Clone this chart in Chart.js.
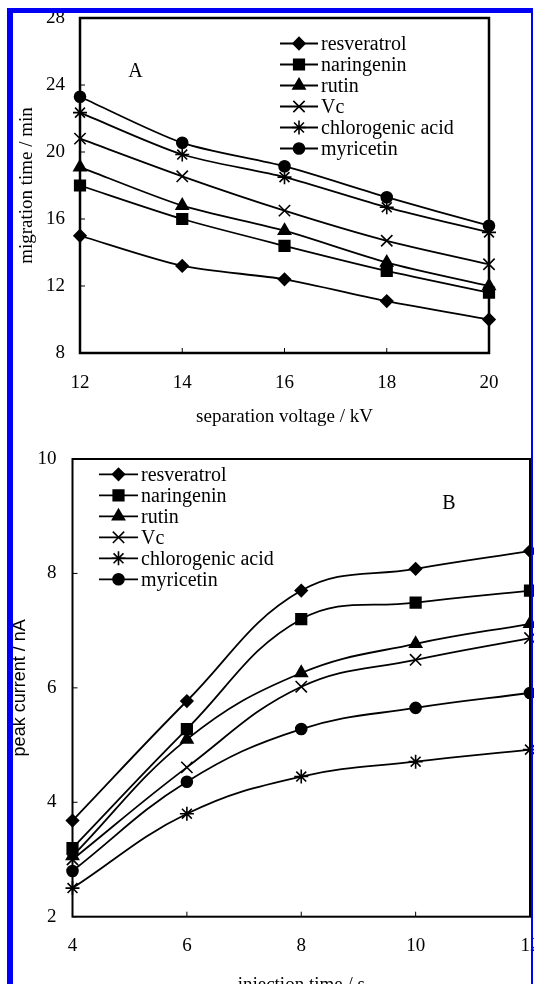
<!DOCTYPE html>
<html>
<head>
<meta charset="utf-8">
<script src="https://cdn.jsdelivr.net/npm/chart.js@4.4.1/dist/chart.umd.min.js"></script>
<style>
  html, body { margin: 0; padding: 0; background: #fff; overflow: hidden; }
  body { width: 534px; height: 984px; position: relative; }
  .frame {
    position: absolute; left: 7px; top: 8px; width: 518px; height: 1000px;
    border-left: 6px solid #0000f4; border-top: 5px solid #0000f4; border-right: 2px solid #0000f4;
    z-index: 2; pointer-events: none;
  }
  #wrapA { position: absolute; left: 0; top: 0; }
  #wrapB { position: absolute; left: 0; top: 440px; }
</style>
</head>
<body>
<div class="frame"></div>
<div id="wrapA"><canvas id="chartA" width="534" height="440"></canvas></div>
<div id="wrapB"><canvas id="chartB" width="534" height="570"></canvas></div>
<script>
const compounds = ['resveratrol', 'naringenin', 'rutin', 'Vc', 'chlorogenic acid', 'myricetin'];

// panel A: migration time (min) against separation voltage (kV)
const voltage = [12, 14, 16, 18, 20];
const voltageTicks = [12, 14, 16, 18, 20];
const migrationTicks = [8, 12, 16, 20, 24, 28];
const resveratrolA = [15.0, 13.2, 12.4, 11.1, 10.0];
const naringeninA = [18.0, 16.0, 14.4, 12.9, 11.6];
const rutinA = [19.1, 16.8, 15.3, 13.4, 12.0];
const vcA = [20.8, 18.55, 16.5, 14.7, 13.3];
const chlorogenicA = [22.35, 19.85, 18.5, 16.7, 15.2];
const myricetinA = [23.3, 20.55, 19.15, 17.3, 15.6];

// panel B: peak current (nA) against injection time (s)
const injection = [4, 6, 8, 10, 12];
const injectionTicks = [4, 6, 8, 10, 12];
const currentTicks = [2, 4, 6, 8, 10];
const resveratrolB = [3.68, 5.77, 7.7, 8.08, 8.39];
const naringeninB = [3.2, 5.28, 7.2, 7.49, 7.7];
const rutinB = [3.06, 5.1, 6.26, 6.77, 7.12];
const vcB = [3.0, 4.61, 6.02, 6.49, 6.87];
const chlorogenicB = [2.5, 3.8, 4.45, 4.71, 4.92];
const myricetinB = [2.8, 4.36, 5.28, 5.65, 5.91];

const pointStyles = ['rectRot', 'rect', 'triangle', 'crossRot', 'star', 'circle'];
const pointSizes = [6, 7.5, 7, 8, 7, 5.5];
const serif = '"Liberation Serif", "Times New Roman", serif';

function makeDatasets(xs, series, tension) {
    return series.map((ys, i) => ({
        label: compounds[i],
        data: xs.map((x, j) => ({ x: x, y: ys[j] })),
        borderColor: '#000',
        backgroundColor: '#000',
        borderWidth: 1.8,
        pointStyle: pointStyles[i],
        pointRadius: pointSizes[i],
        pointBorderWidth: 1.6,
        tension: tension,
        clip: false,
    }));
}

// box, inward ticks, panel letter and legend
const panelPlugin = {
    id: 'panel',
    afterDatasetsDraw(chart, args, opts) {
        const { ctx, chartArea: a, scales: { x, y } } = chart;
        ctx.save();
        ctx.strokeStyle = '#000';
        ctx.fillStyle = '#000';
        ctx.lineWidth = opts.boxWidth;
        ctx.strokeRect(a.left, a.top, a.right - a.left, a.bottom - a.top);

        ctx.lineWidth = 1;
        x.ticks.forEach(t => {
            const px = x.getPixelForValue(t.value);
            ctx.beginPath();
            ctx.moveTo(px, a.bottom);
            ctx.lineTo(px, a.bottom - 5);
            ctx.stroke();
        });
        y.ticks.forEach(t => {
            const py = y.getPixelForValue(t.value);
            ctx.beginPath();
            ctx.moveTo(a.left, py);
            ctx.lineTo(a.left + 5, py);
            ctx.stroke();
        });

        ctx.font = '20px ' + serif;
        ctx.textAlign = 'center';
        ctx.textBaseline = 'middle';
        ctx.fillText(opts.letter, opts.letterX, opts.letterY);

        ctx.textAlign = 'left';
        ctx.font = opts.legendFont;
        chart.data.datasets.forEach((ds, i) => {
            const ly = opts.legendTop + i * opts.legendStep;
            ctx.lineWidth = 1.8;
            ctx.beginPath();
            ctx.moveTo(opts.legendX0, ly);
            ctx.lineTo(opts.legendX1, ly);
            ctx.stroke();
            ctx.lineWidth = 1.6;
            Chart.helpers.drawPoint(ctx, {
                pointStyle: ds.pointStyle,
                radius: ds.pointRadius,
                borderWidth: 1.6,
                rotation: 0,
            }, (opts.legendX0 + opts.legendX1) / 2, ly);
            ctx.fillText(ds.label, opts.legendX1 + 3, ly + 1);
        });
        ctx.restore();
    }
};

function axis(min, max, tickValues, fitSize, horizontal, title, titleFont, titlePadding, tickPadding) {
    return {
        type: 'linear',
        min: min,
        max: max,
        afterBuildTicks: scale => { scale.ticks = tickValues.map(v => ({ value: v })); },
        afterFit: scale => {
            if (horizontal) scale.height = fitSize; else scale.width = fitSize;
            scale.paddingLeft = 0; scale.paddingRight = 0;
            scale.paddingTop = 0; scale.paddingBottom = 0;
        },
        grid: { display: false, drawTicks: false },
        border: { display: false },
        ticks: {
            color: '#000',
            padding: tickPadding,
            font: { family: serif, size: 19 },
            maxRotation: 0,
            autoSkip: false,
        },
        title: {
            display: true,
            text: title,
            color: '#000',
            font: titleFont,
            padding: titlePadding,
        },
    };
}

new Chart(document.getElementById('chartA'), {
    type: 'line',
    data: {
        datasets: makeDatasets(voltage, [resveratrolA, naringeninA, rutinA, vcA, chlorogenicA, myricetinA], 0.25),
    },
    options: {
        responsive: false,
        animation: false,
        layout: { autoPadding: false, padding: { left: 0, top: 18, right: 45, bottom: 0 } },
        scales: {
            x: axis(12, 20, voltageTicks, 87, true, 'separation voltage / kV',
                { family: serif, size: 19 }, { top: 0, bottom: 11.6 }, 18.6),
            y: axis(8, 28, migrationTicks, 80, false, 'migration time / min',
                { family: serif, size: 19 }, { top: 15.6, bottom: 0 }, 15),
        },
        plugins: {
            legend: { display: false },
            tooltip: { enabled: false },
            panel: {
                boxWidth: 2.5,
                letter: 'A', letterX: 135.5, letterY: 72,
                legendFont: '20px ' + serif,
                legendTop: 43.5, legendStep: 21, legendX0: 280, legendX1: 318,
            },
        },
    },
    plugins: [panelPlugin],
});

new Chart(document.getElementById('chartB'), {
    type: 'line',
    data: {
        datasets: makeDatasets(injection, [resveratrolB, naringeninB, rutinB, vcB, chlorogenicB, myricetinB], 0.4),
    },
    options: {
        responsive: false,
        animation: false,
        layout: { autoPadding: false, padding: { left: 0, top: 19, right: 4, bottom: 0 } },
        scales: {
            x: axis(4, 12, injectionTicks, 93.3, true, 'injection time / s',
                { family: serif, size: 19 }, { top: 0, bottom: 13.6 }, 18),
            y: axis(2, 10, currentTicks, 72.5, false, 'peak current / nA',
                { family: '"Liberation Sans", Arial, sans-serif', size: 18 }, { top: 9, bottom: 0 }, 16),
        },
        plugins: {
            legend: { display: false },
            tooltip: { enabled: false },
            panel: {
                boxWidth: 2,
                letter: 'B', letterX: 449, letterY: 64,
                legendFont: '20px ' + serif,
                legendTop: 34.3, legendStep: 21, legendX0: 99, legendX1: 138,
            },
        },
    },
    plugins: [panelPlugin],
});
</script>
</body>
</html>
